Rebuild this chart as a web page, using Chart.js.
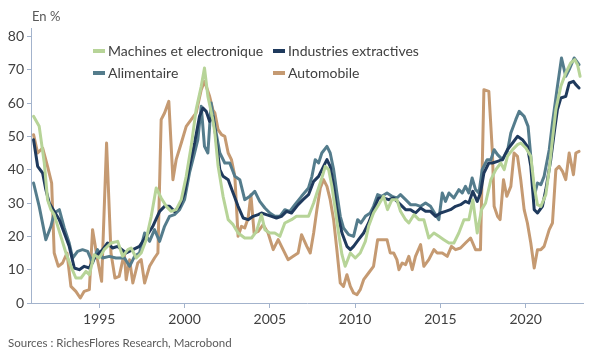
<!DOCTYPE html>
<html><head><meta charset="utf-8">
<script src="https://cdn.jsdelivr.net/npm/chart.js@4"></script>
<style>html,body{margin:0;padding:0;background:#fff}</style>
</head><body>
<canvas id="c" width="600" height="360" style="width:600px;height:360px;display:block"></canvas>
<script>
// [year, value %]
const machines = [[1991.15,56],[1991.48,53],[1991.78,42],[1991.97,31],[1992.17,28],[1992.36,26.5],[1992.75,20],[1993.05,15],[1993.34,11],[1993.63,7.5],
[1993.93,7.5],[1994.22,9.5],[1994.42,8.5],[1994.71,14.5],[1995.00,13.5],[1995.29,16],[1995.69,18],[1996.08,18.5],[1996.37,14],[1996.68,16],
[1996.87,16.5],[1997.17,13.5],[1997.46,15],[1997.75,19],[1998.05,26],[1998.34,34.5],[1998.63,31.5],[1998.93,29],[1999.22,27.5],[1999.51,28],
[1999.81,31],[2000.10,38],[2000.39,47],[2000.68,58],[2000.98,65],[2001.17,70.5],[2001.37,62],[2001.66,55],[2001.78,51],[2001.97,41],
[2002.26,32],[2002.56,25],[2002.85,23.5],[2003.14,21],[2003.53,19.5],[2003.93,19.5],[2004.22,21.5],[2004.51,26.5],[2004.71,22],[2005.00,21],
[2005.29,21],[2005.59,20],[2005.88,24],[2006.27,25],[2006.56,26],[2006.86,26],[2007.27,26],[2007.57,30],[2007.76,33],[2008.05,37.5],
[2008.25,41],[2008.45,40],[2008.64,35],[2008.84,28],[2009.03,21],[2009.23,14.5],[2009.42,11],[2009.72,15],[2010.01,13.5],[2010.30,15],
[2010.60,18.5],[2010.79,23],[2011.08,27],[2011.38,29.5],[2011.67,32],[2011.90,28],[2012.16,31],[2012.45,31],[2012.66,27.5],[2012.96,25],
[2013.15,24],[2013.45,26.5],[2013.74,25],[2014.03,25],[2014.32,19.5],[2014.62,21],[2014.91,20],[2015.20,19],[2015.50,18],[2015.79,18],
[2016.08,21],[2016.38,25],[2016.67,25],[2016.90,31],[2017.16,21],[2017.41,28],[2017.65,30],[2017.96,37],[2018.25,40],[2018.54,42],
[2018.74,40],[2018.93,44],[2019.23,46],[2019.52,47.5],[2019.71,48],[2020.01,46.5],[2020.30,44],[2020.50,35],[2020.69,29.5],[2020.89,29],
[2021.18,32.5],[2021.38,40],[2021.57,49],[2021.77,58],[2022.06,65],[2022.35,69],[2022.64,72],[2022.88,73],[2023.04,71.5],[2023.19,68]];

const industries = [[1991.15,49],[1991.39,41],[1991.68,39],[1991.87,34],[1992.07,30],[1992.36,27.5],[1992.66,25],[1992.95,21],[1993.24,17],[1993.54,10.5],
[1993.83,10],[1994.12,11],[1994.42,10.5],[1994.71,13.5],[1995.00,15],[1995.20,16],[1995.49,18],[1995.78,16.5],[1996.08,17],[1996.58,15],
[1996.97,16],[1997.36,17],[1997.75,20],[1998.14,23],[1998.54,27.5],[1998.83,29],[1999.12,29],[1999.41,27.5],[1999.71,29],[2000.00,33],
[2000.29,41],[2000.59,48],[2000.88,56],[2001.08,58.5],[2001.27,57.5],[2001.47,54.5],[2001.66,56],[2001.78,52],[2002.07,40],[2002.26,38],
[2002.56,37],[2002.85,33],[2003.14,29],[2003.44,25.5],[2003.73,25],[2004.02,26],[2004.32,26.5],[2004.51,27],[2004.80,26.5],[2005.10,26],
[2005.39,25.5],[2005.68,26],[2005.98,27.5],[2006.27,27],[2006.66,29.5],[2006.95,31],[2007.27,32.5],[2007.57,36.5],[2007.86,38],[2008.15,41],
[2008.35,43],[2008.54,41],[2008.74,35],[2008.93,28],[2009.23,21],[2009.52,17],[2009.72,16],[2009.91,17],[2010.20,19],[2010.50,21],
[2010.79,24],[2011.08,28],[2011.38,31.5],[2011.67,31.5],[2011.96,31],[2012.26,31.5],[2012.66,29.5],[2012.96,28],[2013.25,28],[2013.54,27],
[2013.84,28.5],[2014.13,27.5],[2014.42,27.5],[2014.72,26],[2015.01,27],[2015.30,27.5],[2015.59,28],[2015.89,29],[2016.18,29.5],[2016.47,30.5],
[2016.67,30],[2016.90,33.5],[2017.16,30.5],[2017.35,33],[2017.55,39],[2017.84,42],[2018.05,42],[2018.35,42.5],[2018.64,43],[2018.93,46],
[2019.23,48],[2019.52,50],[2019.81,49],[2020.10,47],[2020.30,41],[2020.50,28],[2020.69,27],[2020.98,29],[2021.18,34],[2021.47,43],
[2021.67,51],[2021.86,58],[2022.06,61.5],[2022.35,62],[2022.55,66],[2022.80,66.5],[2022.94,65.5],[2023.13,64.5]];

const alimentaire = [[1991.15,36],[1991.48,29],[1991.87,19],[1992.17,23],[1992.36,27],[1992.66,28],[1992.95,22.5],[1993.24,18],[1993.44,13.5],[1993.73,15.5],
[1994.02,16],[1994.32,15.5],[1994.61,12],[1994.90,16],[1995.20,13.5],[1995.59,14],[1995.98,13.5],[1996.48,13.5],[1996.78,11],[1997.07,14],
[1997.36,15],[1997.66,21],[1997.95,18.5],[1998.24,22],[1998.54,18.5],[1998.83,23],[1999.12,26],[1999.41,26.5],[1999.71,28],[2000.00,31],
[2000.29,39],[2000.59,45],[2000.78,49],[2000.98,59],[2001.17,47],[2001.37,45],[2001.56,60],[2001.78,53],[2002.07,45],[2002.36,42],
[2002.65,42],[2002.95,38],[2003.24,37],[2003.53,31],[2003.83,32],[2004.12,33.5],[2004.41,30.5],[2004.71,28.5],[2005.00,27],[2005.29,26],
[2005.59,26],[2005.88,28],[2006.17,27.5],[2006.47,29.5],[2006.86,32],[2007.27,34.5],[2007.47,38],[2007.66,43],[2007.86,42],[2008.05,45],
[2008.35,47],[2008.54,45],[2008.74,40],[2008.93,33],[2009.13,26],[2009.32,22.5],[2009.62,20.5],[2009.91,20],[2010.15,25],[2010.34,24],
[2010.60,26],[2010.89,27],[2011.08,29],[2011.32,32.5],[2011.57,32],[2011.87,33],[2012.16,32],[2012.45,31.5],[2012.66,32.5],[2012.96,31],
[2013.25,29.5],[2013.54,29.5],[2013.84,29],[2014.13,30],[2014.42,29],[2014.72,26.5],[2014.91,25],[2015.11,33],[2015.30,30.5],[2015.50,33],
[2015.79,31.5],[2016.08,34],[2016.28,33],[2016.47,35],[2016.67,33],[2016.86,37.5],[2017.06,34],[2017.26,33],[2017.45,40],[2017.74,43],
[2017.96,43],[2018.15,46],[2018.35,44.5],[2018.64,43],[2018.93,45.5],[2019.13,51],[2019.42,55],[2019.62,57.5],[2019.91,56],[2020.14,53],
[2020.30,44],[2020.50,32],[2020.69,36],[2020.89,35.5],[2021.08,38],[2021.38,46],[2021.57,54],[2021.86,65],[2022.10,73.5],[2022.35,68],
[2022.55,70],[2022.84,73.5],[2023.13,71.5]];

const automobile = [[1991.15,50.5],[1991.39,45],[1991.68,46.5],[1991.97,41],[1992.21,36],[1992.36,15],[1992.60,11],[1992.85,12],[1993.11,15],[1993.34,5],
[1993.63,3.5],[1993.89,1.5],[1994.12,3.5],[1994.42,4],[1994.61,22],[1994.90,13],[1995.14,6.5],[1995.43,48],[1995.69,15],[1995.92,7.5],
[1996.17,8],[1996.47,15],[1996.58,7],[1996.78,13],[1996.97,6],[1997.26,12],[1997.46,13],[1997.66,6],[1997.95,11],[1998.24,13.5],
[1998.44,15],[1998.63,55],[1998.83,57],[1999.08,60.5],[1999.32,37],[1999.51,43],[1999.81,48],[2000.10,53],[2000.39,55],[2000.68,57],
[2000.98,64],[2001.17,66.5],[2001.47,62],[2001.66,58],[2001.78,57],[2001.97,52],[2002.17,50.5],[2002.36,50],[2002.56,45],[2002.75,43],
[2002.95,38],[2003.14,20],[2003.34,23],[2003.53,22.5],[2003.73,25.5],[2003.89,32.5],[2004.08,21],[2004.32,21.5],[2004.61,23.5],[2004.90,21],
[2005.20,16],[2005.49,19],[2005.78,16],[2006.07,13],[2006.37,14],[2006.66,15],[2006.86,20.5],[2007.17,17],[2007.37,15],[2007.57,21],
[2007.76,28],[2007.96,34.5],[2008.15,37],[2008.35,35],[2008.54,31],[2008.74,25],[2008.93,16],[2009.13,6],[2009.32,5],[2009.52,8.5],
[2009.72,5],[2009.91,3],[2010.11,2.5],[2010.30,4],[2010.50,7],[2010.79,9],[2011.08,11],[2011.32,19],[2011.57,19],[2011.87,19],
[2012.06,15],[2012.26,15],[2012.45,13],[2012.57,10],[2012.76,12],[2012.96,11.5],[2013.15,14],[2013.35,10],[2013.54,14],[2013.84,17.5],
[2014.03,11],[2014.32,13],[2014.62,16],[2014.81,15],[2015.11,15],[2015.40,14],[2015.65,17],[2015.89,16],[2016.18,16.5],[2016.47,18],
[2016.77,19.5],[2017.06,16],[2017.35,16],[2017.55,64],[2017.84,63.5],[2018.05,45],[2018.15,29],[2018.35,26],[2018.50,25],[2018.70,37],
[2018.89,32],[2019.13,35],[2019.32,45],[2019.52,44],[2019.71,37],[2019.91,28],[2020.10,24],[2020.30,18],[2020.50,10.5],[2020.69,16],
[2020.89,16],[2021.08,17],[2021.38,22],[2021.57,24],[2021.77,40],[2021.96,41],[2022.16,39.5],[2022.35,37],[2022.55,45],[2022.80,38.5],
[2022.94,45],[2023.13,45.5]];

const seriesLabels = ['Machines et electronique', 'Industries extractives', 'Alimentaire', 'Automobile'];
const seriesColors = ['#b7d498', '#1f3a5d', '#547c8c', '#c59a72'];
const xTicks = [1995, 2000, 2005, 2010, 2015, 2020];
const yTicks = [0, 10, 20, 30, 40, 50, 60, 70, 80];
const unitLabel = 'En %';
const sourceLabel = 'Sources : RichesFlores Research, Macrobond';

const FONT = 'Lato, "Liberation Sans", sans-serif';
const AXIS = '#a3b3cc';

const toPts = a => a.map(p => ({x: p[0], y: p[1]}));
const allSeries = [machines, industries, alimentaire, automobile];

const extras = {
  id: 'extras',
  afterDraw(chart) {
    const c = chart.ctx;
    c.save();
    c.fillStyle = '#595959';
    c.textBaseline = 'middle';
    c.textAlign = 'left';
    c.font = '13px ' + FONT;
    c.fillText(unitLabel, 32, 17);
    c.font = '11.5px ' + FONT;
    c.fillText(sourceLabel, 8, 343);
    // legend, 2 columns
    const cols = [93, 273], rows = [51, 73];
    c.font = '14px ' + FONT;
    seriesLabels.forEach((lab, i) => {
      const x = cols[i % 2], y = rows[Math.floor(i / 2)];
      c.fillStyle = seriesColors[i];
      c.fillRect(x, y - 2, 12, 4);
      c.fillStyle = '#404040';
      c.fillText(lab, x + 15, y);
    });
    c.restore();
  }
};

new Chart(document.getElementById('c').getContext('2d'), {
  type: 'line',
  data: {
    datasets: allSeries.map((s, i) => ({
      label: seriesLabels[i],
      data: toPts(s),
      borderColor: seriesColors[i],
      backgroundColor: seriesColors[i],
      borderWidth: 3,
      pointRadius: 0,
      tension: 0,
      fill: false,
      order: i + 1
    }))
  },
  options: {
    responsive: false,
    animation: false,
    devicePixelRatio: 1,
    layout: {padding: {left: 0, right: 17, top: 28, bottom: 27}},
    plugins: {legend: {display: false}, tooltip: {enabled: false}},
    elements: {line: {borderJoinStyle: 'round', borderCapStyle: 'round'}},
    scales: {
      x: {
        type: 'linear', min: 1991, max: 2023.36,
        afterBuildTicks: s => { s.ticks = xTicks.map(v => ({value: v})); },
        afterFit: s => { s.height = 30; },
        ticks: {font: {family: FONT, size: 14}, color: '#404040', padding: 3, maxRotation: 0, autoSkip: false, callback: v => String(v)},
        grid: {drawOnChartArea: false, drawTicks: true, tickLength: 5, color: AXIS},
        border: {display: true, color: AXIS, width: 1}
      },
      y: {
        type: 'linear', min: 0, max: 82.5,
        afterBuildTicks: s => { s.ticks = yTicks.map(v => ({value: v})); },
        afterFit: s => { s.width = 31; },
        ticks: {font: {family: FONT, size: 14}, color: '#404040', padding: 3, autoSkip: false},
        grid: {drawOnChartArea: false, drawTicks: true, tickLength: 4, color: AXIS},
        border: {display: true, color: AXIS, width: 1}
      }
    }
  },
  plugins: [extras]
});
</script>
</body></html>
